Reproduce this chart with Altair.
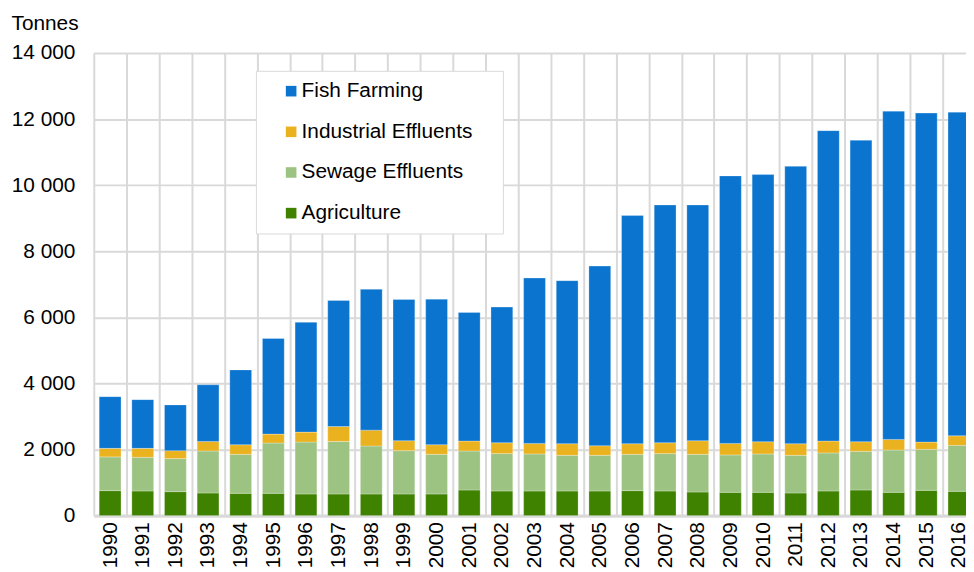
import altair as alt
import pandas as pd

years = list(range(1990, 2017))
series = ["Fish Farming", "Industrial Effluents", "Sewage Effluents", "Agriculture"]
colors = ["#0a74cf", "#ebb21f", "#9dc383", "#3f8200"]

agriculture = [756, 745, 725, 685, 675, 675, 655, 655, 655, 655, 655, 775, 745, 745,
               745, 745, 756, 745, 714, 705, 705, 685, 745, 775, 705, 765, 735]
sewage = [1021, 1020, 1001, 1271, 1180, 1522, 1572, 1590, 1452, 1311, 1200, 1181, 1131, 1121,
          1080, 1080, 1099, 1131, 1141, 1131, 1161, 1140, 1151, 1171, 1281, 1241, 1391]
industrial = [258, 270, 240, 289, 291, 270, 300, 450, 480, 300, 291, 301, 330, 319,
              351, 291, 321, 330, 411, 349, 370, 351, 361, 290, 320, 220, 290]
fish = [1565, 1475, 1384, 1715, 2264, 2893, 3323, 3815, 4263, 4274, 4404, 3893, 4104, 5005,
        4934, 5434, 6904, 7194, 7134, 8095, 8084, 8394, 9393, 9124, 9934, 9954, 9794]

y_ticks = [0, 2000, 4000, 6000, 8000, 10000, 12000, 14000]

rows = []
for i, yr in enumerate(years):
    for name, vals, order in [("Agriculture", agriculture, 0), ("Sewage Effluents", sewage, 1),
                              ("Industrial Effluents", industrial, 2), ("Fish Farming", fish, 3)]:
        rows.append({"year": yr, "source": name, "value": vals[i], "ord": order})
df = pd.DataFrame(rows)

FONT = "Liberation Sans"
GRID = "#d9d9d9"

PLOT_W = 879.5
STEP = 32.92
x_domain = [years[0] - 0.5, years[0] - 0.5 + PLOT_W / STEP]
boundaries = [y - 0.5 for y in years]

chart = alt.Chart(df).mark_bar(size=22, stroke="#ffffff", strokeWidth=0.6, strokeOpacity=0.45).encode(
    x=alt.X("year:Q", title=None,
            scale=alt.Scale(domain=x_domain, nice=False, zero=False, padding=0),
            axis=alt.Axis(values=boundaries, labelExpr="format(datum.value + 0.5, 'd')",
                          labelOffset=STEP / 2, labelFlush=False, labelOverlap=False,
                          labelAngle=270, labelFontSize=21, labelFont=FONT, labelColor="#000000",
                          labelPadding=6, ticks=False, grid=True,
                          gridColor=GRID, gridWidth=2, domainColor=GRID, domainWidth=3)),
    y=alt.Y("value:Q", stack="zero", title="Tonnes",
            scale=alt.Scale(domain=[0, 14000], nice=False, padding=0),
            axis=alt.Axis(values=y_ticks, labelExpr="replace(format(datum.value, ','), ',', ' ')",
                          labelFontSize=21, labelFont=FONT, labelColor="#000000", labelPadding=19,
                          ticks=False, domain=False, grid=True, gridColor=GRID, gridWidth=2,
                          titleAngle=0, titleAlign="left", titleBaseline="top", titleX=-83.5, titleY=-41,
                          titleFont=FONT, titleFontSize=21, titleFontWeight="normal", titleColor="#000000")),
    color=alt.Color("source:N", scale=alt.Scale(domain=series, range=colors),
                    legend=alt.Legend(title="I", titleOrient="right", titleColor="#ffffff",
                                      titleFont=FONT, titleFontSize=21, titlePadding=15,
                                      orient="none", legendX=163.5, legendY=18,
                                      symbolType="square", symbolSize=114, symbolStrokeWidth=0,
                                      symbolOffset=15, labelFont=FONT, labelFontSize=21,
                                      labelColor="#000000", labelOffset=0, rowPadding=19, padding=10,
                                      labelLimit=600,
                                      fillColor="#ffffff", strokeColor=GRID)),
    order=alt.Order("ord:Q", sort="ascending"),
).properties(
    width=PLOT_W, height=466.5,
    autosize=alt.AutoSizeParams(type="none"),
    padding={"left": 86.5, "top": 43, "right": 0, "bottom": 54.5},
).configure_view(stroke=None)

chart.save("out.html", embed_options={"renderer": "svg", "actions": False})
